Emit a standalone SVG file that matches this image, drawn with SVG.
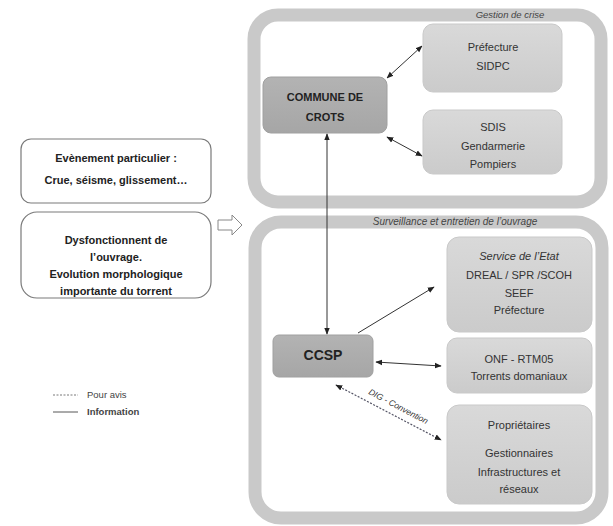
<svg xmlns="http://www.w3.org/2000/svg" width="613" height="526" viewBox="0 0 613 526">
<style>
text{font-family:"Liberation Sans",Arial,sans-serif;fill:#333;text-anchor:middle}
.t{font-size:11px}
.b{font-weight:bold;fill:#222}
.ti{font-style:italic;fill:#444}
.cont{fill:#fff;stroke:#c9c9c9;stroke-width:13}
.node{fill:url(#g1);stroke:#c9c9c9;stroke-width:1}
.dark{fill:url(#g2);stroke:#a0a0a0;stroke-width:1}
.lb{fill:#fff;stroke:#7a7a7a;stroke-width:1.2}
.ln{stroke:#333;stroke-width:1;fill:none}
.dash{stroke:#556;stroke-width:1.2;fill:none;stroke-dasharray:2 1.5}
.leg{font-size:9.5px;text-anchor:start;fill:#444}
</style>
<defs>
<linearGradient id="g1" x1="0" y1="0" x2="0" y2="1"><stop offset="0" stop-color="#d9d9d9"/><stop offset="1" stop-color="#cbcbcb"/></linearGradient>
<linearGradient id="g2" x1="0" y1="0" x2="0" y2="1"><stop offset="0" stop-color="#b3b3b3"/><stop offset="1" stop-color="#a6a6a6"/></linearGradient>
<marker id="ah" viewBox="0 0 10 10" refX="9" refY="5" markerWidth="7" markerHeight="7" orient="auto-start-reverse" markerUnits="userSpaceOnUse"><path d="M0,1 L10,5 L0,9 Z" fill="#222"/></marker>
</defs>
<rect width="613" height="526" fill="#fff"/>
<g id="crisis-container">
<rect class="cont" x="254" y="15" width="347" height="187" rx="24"/>
<text class="ti" x="510" y="18" font-size="9.5">Gestion de crise</text>
</g>
<g id="surveillance-container">
<rect class="cont" x="255" y="222" width="347" height="296" rx="26"/>
<text class="ti" x="455" y="225" font-size="10">Surveillance et entretien de l’ouvrage</text>
</g>
<g id="prefecture-sidpc">
<rect class="node" x="423" y="24" width="139" height="68" rx="10"/>
<text class="t" x="493" y="51">Préfecture</text>
<text class="t" x="493" y="70">SIDPC</text>
</g>
<g id="sdis">
<rect class="node" x="423" y="110" width="139" height="64" rx="10"/>
<text class="t" x="493" y="131">SDIS</text>
<text class="t" x="493" y="150">Gendarmerie</text>
<text class="t" x="493" y="168">Pompiers</text>
</g>
<g id="commune-crots">
<rect class="dark" x="263" y="77" width="124" height="56" rx="8"/>
<text class="t b" x="325" y="101">COMMUNE DE</text>
<text class="t b" x="325" y="121">CROTS</text>
</g>
<g id="service-etat">
<rect class="node" x="447" y="237" width="145" height="95" rx="12"/>
<text class="t" x="519" y="260" font-style="italic">Service de l’Etat</text>
<text class="t" x="519" y="279">DREAL / SPR /SCOH</text>
<text class="t" x="519" y="297">SEEF</text>
<text class="t" x="519" y="314">Préfecture</text>
</g>
<g id="ccsp">
<rect class="dark" x="273" y="335" width="100" height="42" rx="6"/>
<text class="b" x="323" y="360" font-size="14">CCSP</text>
</g>
<g id="onf-rtm">
<rect class="node" x="447" y="338" width="145" height="55" rx="10"/>
<text class="t" x="519" y="363">ONF - RTM05</text>
<text class="t" x="519" y="380">Torrents domaniaux</text>
</g>
<g id="proprietaires">
<rect class="node" x="447" y="405" width="145" height="99" rx="12"/>
<text class="t" x="519" y="429">Propriétaires</text>
<text class="t" x="519" y="457">Gestionnaires</text>
<text class="t" x="519" y="476">Infrastructures et</text>
<text class="t" x="519" y="493">réseaux</text>
</g>
<g id="evenement">
<rect class="lb" x="21" y="139" width="190" height="64" rx="10"/>
<text class="t b" x="116" y="162">Evènement particulier :</text>
<text class="t b" x="116" y="184">Crue, séisme, glissement…</text>
</g>
<g id="dysfonctionnement">
<rect class="lb" x="21" y="212" width="190" height="86" rx="16"/>
<text class="t b" x="116" y="244">Dysfonctionnent de</text>
<text class="t b" x="116" y="261">l’ouvrage.</text>
<text class="t b" x="116" y="278">Evolution morphologique</text>
<text class="t b" x="116" y="295">importante du torrent</text>
</g>
<g id="hollow-arrow">
<path d="M218,220 H232 V215 L242,225 L232,235 V230 H218 Z" fill="#fff" stroke="#888" stroke-width="1"/>
</g>
<g id="connectors">
<line class="ln" x1="387" y1="78" x2="422" y2="46" marker-start="url(#ah)" marker-end="url(#ah)"/>
<line class="ln" x1="387" y1="137" x2="422" y2="156" marker-start="url(#ah)" marker-end="url(#ah)"/>
<line class="ln" x1="327" y1="134" x2="327" y2="334" marker-start="url(#ah)" marker-end="url(#ah)"/>
<line class="ln" x1="358" y1="333" x2="434" y2="287" stroke-width="1.3" marker-end="url(#ah)"/>
<line class="ln" x1="376" y1="362" x2="441" y2="366" stroke-width="1.2" marker-start="url(#ah)" marker-end="url(#ah)"/>
<line class="dash" x1="336" y1="385" x2="441" y2="440" marker-start="url(#ah)" marker-end="url(#ah)"/>
<text x="397" y="409" font-size="8.5" font-style="italic" fill="#444" transform="rotate(27.7 397 409)">DIG - Convention</text>
</g>
<g id="legend">
<line x1="53" y1="395" x2="78" y2="395" stroke="#555" stroke-width="0.8" stroke-dasharray="2 1.5"/>
<text class="leg" x="87" y="398">Pour avis</text>
<line x1="53" y1="412" x2="78" y2="412" stroke="#444" stroke-width="0.9"/>
<text class="leg" x="87" y="415" font-weight="bold">Information</text>
</g>
</svg>
